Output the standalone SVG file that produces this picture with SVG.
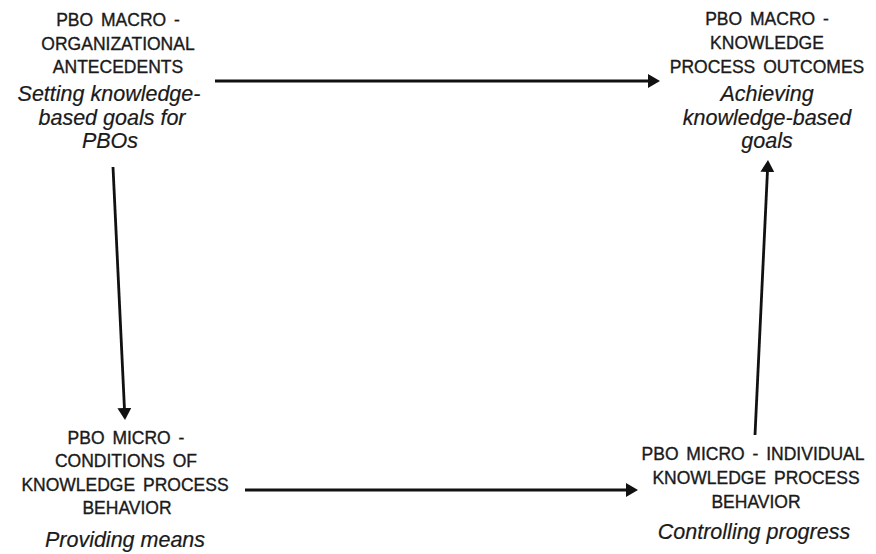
<svg xmlns="http://www.w3.org/2000/svg" width="876" height="554" viewBox="0 0 876 554">
<style>
  .cap { font-family: "Liberation Sans", Arial, sans-serif; font-size: 17.5px; fill: #1a1a1a; stroke: #1a1a1a; stroke-width: 0.35px; text-anchor: middle; word-spacing: 3px; }
  .it { font-family: "Liberation Sans", Arial, sans-serif; font-size: 21.5px; font-style: italic; fill: #1a1a1a; stroke: #1a1a1a; stroke-width: 0.2px; text-anchor: middle; }
  .conn { stroke: #111; stroke-width: 2.8; fill: none; marker-end: url(#arrow); }
</style>
<defs>
  <marker id="arrow" viewBox="0 0 12 14" markerWidth="12" markerHeight="14" refX="8" refY="7" orient="auto" markerUnits="userSpaceOnUse">
    <path d="M0,0 L12,7 L0,14 z" fill="#111"/>
  </marker>
</defs>
<rect width="876" height="554" fill="#fff"/>
<g id="macro-antecedents">
  <text class="cap" x="118" y="26">PBO MACRO -</text>
  <text class="cap" x="118" y="50">ORGANIZATIONAL</text>
  <text class="cap" x="118" y="73">ANTECEDENTS</text>
  <text class="it" x="109" y="101">Setting knowledge-</text>
  <text class="it" x="112" y="125">based goals for</text>
  <text class="it" x="110" y="148">PBOs</text>
</g>
<g id="macro-outcomes">
  <text class="cap" x="767" y="25">PBO MACRO -</text>
  <text class="cap" x="767" y="49">KNOWLEDGE</text>
  <text class="cap" x="767" y="73">PROCESS OUTCOMES</text>
  <text class="it" x="767" y="101">Achieving</text>
  <text class="it" x="767" y="125">knowledge-based</text>
  <text class="it" x="767" y="148">goals</text>
</g>
<g id="micro-conditions">
  <text class="cap" x="126" y="444">PBO MICRO -</text>
  <text class="cap" x="126" y="467">CONDITIONS OF</text>
  <text class="cap" x="125" y="491">KNOWLEDGE PROCESS</text>
  <text class="cap" x="127" y="514">BEHAVIOR</text>
  <text class="it" x="125" y="547">Providing means</text>
</g>
<g id="micro-behavior">
  <text class="cap" x="753" y="460">PBO MICRO - INDIVIDUAL</text>
  <text class="cap" x="756" y="484">KNOWLEDGE PROCESS</text>
  <text class="cap" x="756" y="508">BEHAVIOR</text>
  <text class="it" x="754" y="539">Controlling progress</text>
</g>
<g id="connectors">
  <line class="conn" x1="215" y1="81" x2="656" y2="81"/>
  <line class="conn" x1="113" y1="167" x2="124.8" y2="416"/>
  <line class="conn" x1="245" y1="490" x2="634" y2="490"/>
  <line class="conn" x1="755" y1="435" x2="767.8" y2="164"/>
</g>
</svg>
